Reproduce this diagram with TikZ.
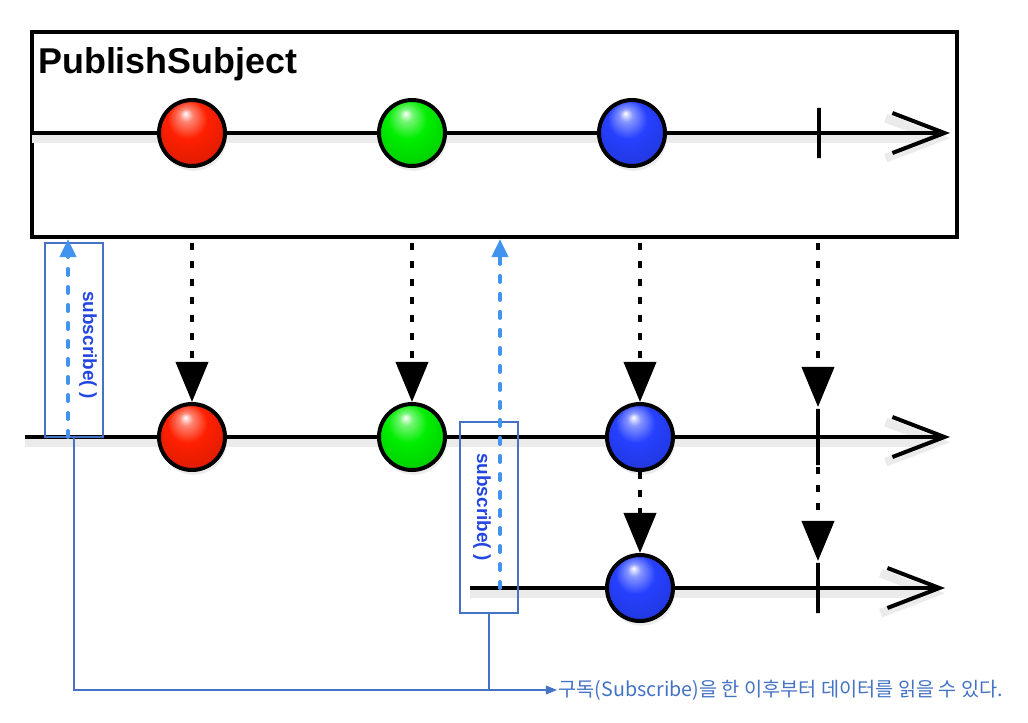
\documentclass[tikz,border=0pt]{standalone}
\usepackage{fontspec}
\setmainfont{Liberation Sans}
\newfontfamily\kofont{Noto Sans CJK KR}
\usepackage{tikz}
\usetikzlibrary{arrows.meta,shadows}
\definecolor{subblue}{RGB}{66,146,240}
\definecolor{noteblue}{RGB}{68,114,196}
\definecolor{textblue}{RGB}{35,70,225}
\definecolor{marblered}{RGB}{255,32,0}
\definecolor{marblegreen}{RGB}{0,238,0}
\definecolor{marbleblue}{RGB}{38,64,255}

%Shading of a marble: highlight at the top, darker rim at the bottom
\newcommand{\declaremarble}[2]{%
	\pgfdeclareradialshading{#1}{\pgfpoint{-5bp}{15bp}}{%
		color(0bp)=(white); color(5bp)=(#2!55!white); color(15bp)=(#2);
		color(30bp)=(#2!88!black); color(40bp)=(#2!68!black); color(50bp)=(#2!50!black)}}
\declaremarble{redmarble}{marblered}
\declaremarble{greenmarble}{marblegreen}
\declaremarble{bluemarble}{marbleblue}

\begin{document}
\begin{tikzpicture}[x=0.025cm,y=-0.025cm,
	marble/.style={circle, draw=black, line width=0.1cm, minimum size=1.65cm, inner sep=0pt,
		shading=#1marble, drop shadow={opacity=0.15, shadow xshift=0.04cm, shadow yshift=-0.12cm}},
	timeline/.style={line width=0.1cm, -{Straight Barb[length=1.3cm, width=1cm]},
		preaction={draw=black!8, line width=0.22cm, transform canvas={yshift=-0.13cm}}},
	tickmark/.style={draw=black, line width=0.1cm, minimum width=0pt, minimum height=1.25cm, inner sep=0pt},
	emit/.style={line width=0.1cm, dash pattern=on 0.17cm off 0.28cm, -{Triangle[length=1cm, width=0.8cm]}},
	subarrow/.style={subblue, line width=0.1cm, line cap=round, dash pattern=on 0.15cm off 0.3cm,
		-{Triangle[length=0.45cm, width=0.4cm]}},
	subbox/.style={draw=noteblue, line width=0.05cm, minimum width=1.45cm, inner sep=0pt},
	subtext/.style={text=textblue, font=\bfseries\fontsize{13.5}{16}\selectfont, rotate=-90, inner sep=0pt},
	noteline/.style={noteblue, line width=0.03cm}]

	%Fix the page to the size of the reference
	\useasboundingbox (0,0) rectangle (1028,723);

	%Rows of the timelines
	\pgfmathsetmacro{\ytop}{133}
	\pgfmathsetmacro{\ymid}{437}
	\pgfmathsetmacro{\ybot}{588}

	%Subject box and its title
	\node[draw, line width=0.1cm, minimum width=23.125cm, minimum height=5.125cm, inner sep=0pt, anchor=north west] (subject) at (30,30) {};
	\node[anchor=base west, font=\bfseries\fontsize{25.5}{30}\selectfont, inner sep=0pt] (title) at (38,73) {PublishSubject};

	%Timelines
	\coordinate (top start) at (32,\ytop);
	\coordinate (top end) at (950,\ytop);
	\coordinate (mid start) at (25,\ymid);
	\coordinate (mid end) at (950,\ymid);
	\coordinate (bot start) at (470,\ybot);
	\coordinate (bot end) at (945,\ybot);
	\draw[timeline] (top start) -- (top end);
	\draw[timeline] (mid start) -- (mid end);
	\draw[timeline] (bot start) -- (bot end);

	%Subscribe boxes, drawn below the arrows
	\node[subbox, minimum height=4.85cm] (box1) at (74,340) {};
	\node[subbox, minimum height=4.775cm] (box2) at (489,517.5) {};

	%Items on the subject
	\node[marble=red] (red top) at (192,\ytop) {};
	\node[marble=green] (green top) at (412,\ytop) {};
	\node[marble=blue] (blue top) at (632,\ytop) {};
	\node[tickmark] (end top) at (819,\ytop) {};

	%Items seen by the first subscriber
	\node[marble=red] (red mid) at (192,\ymid) {};
	\node[marble=green] (green mid) at (412,\ymid) {};
	\node[marble=blue] (blue mid) at (640,\ymid) {};
	\node[tickmark, minimum height=1.4cm] (end mid) at (818,\ymid) {};

	%Items seen by the second subscriber
	\node[marble=blue] (blue bot) at (640,\ybot) {};
	\node[tickmark] (end bot) at (818,\ybot) {};

	%Emissions
	\draw[emit, shorten <=0.1cm] (red mid |- subject.south) -- (red mid.north);
	\draw[emit, shorten <=0.1cm] (green mid |- subject.south) -- (green mid.north);
	\draw[emit, shorten <=0.1cm] (blue mid |- subject.south) -- (blue mid.north);
	\draw[emit, shorten <=0.1cm] (end mid |- subject.south) -- (end mid.north);
	\draw[emit] (blue mid.south) -- (blue bot.north);
	\draw[emit] (end mid.south) -- (end bot.north);

	%Subscribe calls
	\coordinate (sub1) at (68,\ymid);
	\coordinate (sub2) at (500,\ybot);
	\draw[subarrow] (sub1) -- (sub1 |- subject.south);
	\draw[subarrow] (sub2) -- (sub2 |- subject.south);
	\node[subtext] (sub1 text) at (88,345) {subscribe( )};
	\node[subtext] (sub2 text) at (482,507) {subscribe( )};

	%Note
	\node[anchor=west, text=noteblue, font=\kofont\fontsize{14}{16}\selectfont, inner sep=1pt] (note) at (557,690) {구독(Subscribe)을 한 이후부터 데이터를 읽을 수 있다.};
	\draw[noteline, -{Triangle[length=0.28cm, width=0.22cm]}] (box1.south) |- (note.west);
	\draw[noteline] (box2.south) -- (box2.south |- note.west);

\end{tikzpicture}
\end{document}
